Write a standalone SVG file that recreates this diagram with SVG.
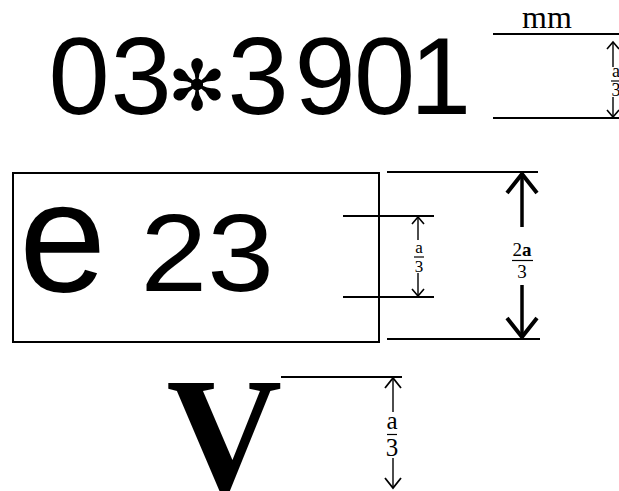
<svg xmlns="http://www.w3.org/2000/svg" width="619" height="491" viewBox="0 0 619 491">
<style>
.sans{font-family:"Liberation Sans",Arial,sans-serif;fill:#000}
.serif{font-family:"Liberation Serif","Times New Roman",serif;fill:#000}
.dim{stroke:#000;stroke-width:2;fill:none}
.thin{stroke:#000;stroke-width:1.4;fill:none}
.thick{stroke:#000;stroke-width:3.5;fill:none}
.bar{stroke:#000;stroke-width:1.2}
</style>
<defs>
<marker id="arrS" markerUnits="userSpaceOnUse" orient="auto-start-reverse" refX="0" refY="0" markerWidth="20" markerHeight="20" overflow="visible">
<path d="M-7,-6 L0,0 L-7,6" fill="none" stroke="#000" stroke-width="1.6"/>
</marker>
<marker id="arrM" markerUnits="userSpaceOnUse" orient="auto-start-reverse" refX="0" refY="0" markerWidth="20" markerHeight="20" overflow="visible">
<path d="M-10,-8 L0,0 L-10,8" fill="none" stroke="#000" stroke-width="1.8"/>
</marker>
<marker id="arrL" markerUnits="userSpaceOnUse" orient="auto" refX="0" refY="0" markerWidth="40" markerHeight="40" overflow="visible">
<path d="M-19,-15 L0,0 L-19,15" fill="none" stroke="#000" stroke-width="4"/>
</marker>
</defs>

<g id="code-line">
<text class="sans" font-size="110" x="48.4 110.4" y="114">03</text>
<text font-family="DejaVu Sans,sans-serif" font-size="70" x="197" y="110" text-anchor="middle">✻</text>
<text class="sans" font-size="110" x="227.4 294.5 354 410" y="114">3901</text>
</g>

<g id="unit-mm">
<text class="serif" font-size="32" x="522" y="28">mm</text>
<text class="serif" font-size="18" x="616" y="77" text-anchor="middle">a</text>
<line class="bar" x1="611" y1="81" x2="621" y2="81"/>
<text class="serif" font-size="18" x="616" y="96" text-anchor="middle">3</text>
</g>

<g id="e-mark">
<rect x="13" y="173" width="366" height="169" fill="none" stroke="#000" stroke-width="2"/>
<text class="sans" font-size="157" x="19" y="291">e</text>
<text class="sans" font-size="109" transform="translate(140.5,291) scale(1.1,1)">23</text>
</g>

<g id="frac-small">
<text class="serif" font-size="17" x="419" y="253" text-anchor="middle">a</text>
<line class="bar" x1="414" y1="257" x2="424" y2="257"/>
<text class="serif" font-size="17" x="419" y="272" text-anchor="middle">3</text>
</g>

<g id="frac-big">
<text class="serif" font-size="19" x="522" y="256" text-anchor="middle">2<tspan font-weight="bold">a</tspan></text>
<line class="bar" x1="512" y1="260.5" x2="533" y2="260.5"/>
<text class="serif" font-size="19" x="522" y="278" text-anchor="middle">3</text>
</g>

<g id="v-mark">
<text class="serif" font-weight="bold" font-size="160" x="166.5" y="489">V</text>
<text class="serif" font-size="25" x="392" y="429" text-anchor="middle">a</text>
<line class="bar" x1="387" y1="434.5" x2="397" y2="434.5"/>
<text class="serif" font-size="25" x="392" y="456" text-anchor="middle">3</text>
</g>

<g id="connectors">
<line class="dim" x1="493" y1="34" x2="619" y2="34"/>
<line class="dim" x1="493" y1="118" x2="619" y2="118"/>
<line class="thin" x1="613" y1="67" x2="613" y2="42" marker-end="url(#arrS)"/>
<line class="thin" x1="613" y1="97" x2="613" y2="117" marker-end="url(#arrS)"/>

<line class="dim" x1="387" y1="172" x2="538" y2="172"/>
<line class="dim" x1="387" y1="339" x2="540" y2="339"/>
<line class="dim" x1="343" y1="216" x2="434" y2="216"/>
<line class="dim" x1="343" y1="297" x2="434" y2="297"/>
<line class="thin" x1="418" y1="240" x2="418" y2="217" marker-end="url(#arrS)"/>
<line class="thin" x1="418" y1="273" x2="418" y2="296" marker-end="url(#arrS)"/>
<line class="thick" x1="522" y1="227" x2="522" y2="174" marker-end="url(#arrL)"/>
<line class="thick" x1="522" y1="285" x2="522" y2="337" marker-end="url(#arrL)"/>

<line class="dim" x1="281" y1="377" x2="402" y2="377"/>
<line class="thin" x1="393" y1="412" x2="393" y2="378" marker-end="url(#arrM)"/>
<line class="thin" x1="393" y1="458" x2="393" y2="488" marker-end="url(#arrM)"/>
</g>
</svg>
